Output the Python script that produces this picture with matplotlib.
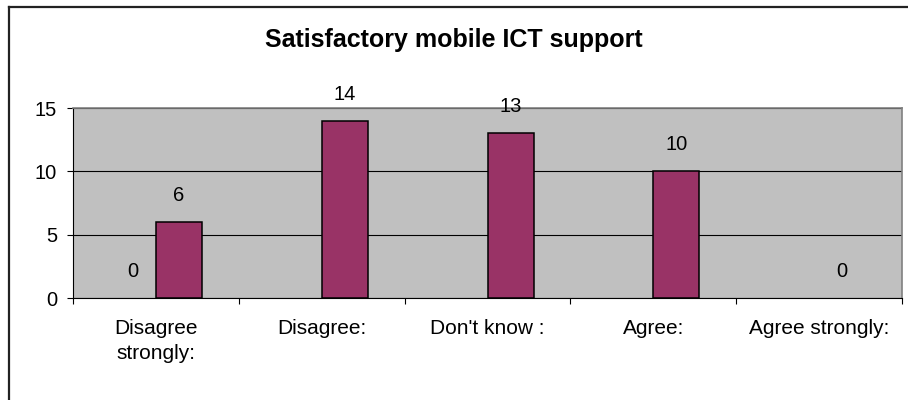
import matplotlib.pyplot as plt
import numpy as np
from matplotlib.lines import Line2D

plt.rcParams['font.family'] = ['Liberation Sans', 'DejaVu Sans']

# respostas por categoria
categorias = ["Disagree\nstrongly:", "Disagree:", "Don't know :", "Agree:", "Agree strongly:"]
serie1 = [0, None, None, None, None]
serie2 = [6, 14, 13, 10, 0]
titulo = "Satisfactory mobile ICT support"

x = np.arange(len(categorias))
largura = 0.2775

fig = plt.figure(figsize=(9.08, 4.0), dpi=100)
ax = fig.add_axes([0.0804, 0.255, 0.9130, 0.475])
ax.set_facecolor("#C0C0C0")

def desenha(serie, offset):
    for xi, v in zip(x, serie):
        if v is None:
            continue
        ax.bar(xi + offset, v, largura, color="#993366", edgecolor="black",
               linewidth=1.1 if v > 0 else 0, zorder=3)
        ax.annotate(str(v), (xi + offset, v), xytext=(0, 19), textcoords="offset points",
                    ha="center", va="center", fontsize=14.5, zorder=4, annotation_clip=False)

desenha(serie1, -largura / 2)
desenha(serie2, largura / 2)

ax.set_xlim(-0.5, len(categorias) - 0.5)
ax.set_ylim(0, 15)
ax.set_yticks([0, 5, 10, 15])
ax.yaxis.grid(True, color="black", linewidth=0.8, zorder=1)
ax.set_axisbelow(True)

# marcas nas divisões, rótulos no centro das categorias
ax.set_xticks(np.arange(-0.5, len(categorias)))
ax.set_xticklabels([])
ax.set_xticks(x, minor=True)
ax.set_xticklabels(categorias, minor=True, fontsize=15, linespacing=1.4)
ax.tick_params(axis="x", which="major", length=4.5, width=0.8, direction="out")
ax.tick_params(axis="x", which="minor", length=0, pad=15)
ax.tick_params(axis="y", length=4.5, width=0.8, direction="out", labelsize=14.5, pad=7)

for lado in ["top", "right"]:
    ax.spines[lado].set_color("#808080")
    ax.spines[lado].set_linewidth(1.2)
for lado in ["left", "bottom"]:
    ax.spines[lado].set_color("black")
    ax.spines[lado].set_linewidth(0.8)

fig.text(0.5, 0.9, titulo, ha="center", va="center", fontsize=18, fontweight="bold")

# moldura do gráfico
fig.add_artist(Line2D([8.5 / 908, 8.5 / 908], [0, 1 - 6.5 / 400], color="#222222", linewidth=1.6))
fig.add_artist(Line2D([8.5 / 908, 1], [1 - 6.5 / 400, 1 - 6.5 / 400], color="#222222", linewidth=1.6))

fig.savefig("out.png", dpi=100)
